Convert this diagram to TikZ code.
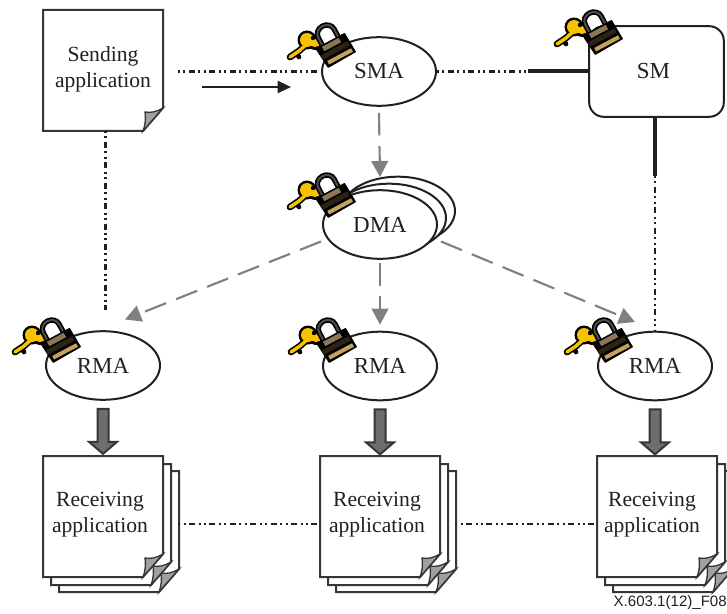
\documentclass[tikz,border=0pt]{standalone}
\usepackage{fontspec}
\setmainfont{Liberation Serif}
\setsansfont{Liberation Sans}
\usetikzlibrary{shapes.geometric,arrows.meta}
\definecolor{ink}{HTML}{231F20}
\definecolor{sheetline}{HTML}{33363A}
\definecolor{foldgrey}{HTML}{A0A0A0}
\definecolor{flowgrey}{HTML}{808080}
\definecolor{blockgrey}{HTML}{6E6E6E}
\definecolor{keygold}{HTML}{F7C200}
\definecolor{locktan}{HTML}{C4A25E}
\definecolor{lockmid}{HTML}{8C7755}
\tikzset{
  x=0.75pt,y=-0.75pt,
  lab/.style={font=\fontsize{16.2}{19.5}\selectfont,text=ink,align=center,inner sep=0pt},
  agent/.style={ellipse,draw=ink,fill=white,line width=1.5pt,minimum width=85.5pt,minimum height=51.5pt,inner sep=0pt,lab,font=\fontsize{17.2}{19.5}\selectfont},
  manager/.style={rectangle,draw=ink,fill=white,line width=1.5pt,rounded corners=11pt,minimum width=101pt,minimum height=68pt,inner sep=0pt,lab,font=\fontsize{17.2}{19.5}\selectfont},
  sheetarea/.style={rectangle,minimum width=90pt,minimum height=90pt,inner sep=0pt,lab},
  stackarea/.style={rectangle,minimum width=101pt,minimum height=102pt,inner sep=0pt},
  sheet/.style={draw=sheetline,fill=white,line width=1.5pt,line join=miter},
  fold/.style={draw=sheetline,fill=foldgrey,line width=1pt},
  dotlink/.style={draw=ink,line width=1.6pt,dash pattern=on 1.5pt off 2.6pt on 1.5pt off 2.6pt on 4.5pt off 2.6pt},
  thicklink/.style={draw=ink,line width=3pt},
  flow/.style={draw=flowgrey,line width=1.6pt,dash pattern=on 17pt off 8pt},
  block/.style={draw=sheetline,fill=blockgrey,line width=1.5pt,line join=miter},
  flowhead/.style={-{Triangle[length=12pt,width=12.5pt,color=flowgrey,sep=0pt]}},
}
\newcommand{\drawsheet}[2]{%
  \path[sheet] (#1,#2) -- ++(120,0) -- ++(0,98) -- ++(-20,23) -- ++(-100,0) -- cycle;
  \path[fold] (#1+120,#2+98) .. controls (#1+113,#2+102) and (#1+108,#2+103) .. (#1+102,#2+102) .. controls (#1+103,#2+110) and (#1+102,#2+116) .. (#1+100,#2+121) -- cycle;
}
\newcommand{\drawstack}[2]{%
  \drawsheet{#1+16}{#2+15}\drawsheet{#1+8}{#2+8}\drawsheet{#1}{#2}%
}
\newcommand{\drawlock}[2]{%
  \begin{scope}[shift={(#1,#2)}]
    % key: black silhouette, then gold core
    \path[draw=black,line width=5pt,line join=round,line cap=round] (-45,7) -- (-36,1) -- (-27,-7);
    \path[draw=black,line width=3.5pt,line join=round,line cap=round] (-39,3) -- (-36,7);
    \path[fill=black] (-28,-10) circle[radius=9.5];
    \path[fill=black] (-20,-7) circle[radius=7];
    \path[draw=keygold,line width=2.6pt,line cap=round] (-45,7) -- (-36,1) -- (-27,-7);
    \path[fill=keygold] (-28,-10) circle[radius=7];
    \path[fill=keygold] (-20,-7) ellipse[x radius=5.5,y radius=4];
    \path[fill=black] (-22,-12) circle[radius=2.2];
  \end{scope}
  \begin{scope}[shift={(#1,#2)},rotate=28]
    \path[draw=black,line width=4pt] (-9,-8) -- (-9,-19) arc[start angle=180,end angle=0,x radius=9,y radius=-8] -- (9,-8);
    \path[draw=gray!60!black,line width=1.5pt] (-9,-8) -- (-9,-19) arc[start angle=180,end angle=0,x radius=9,y radius=-8] -- (9,-8);
    \path[fill=black,draw=black,line width=1pt,line join=round] (-16,-10) -- (16,-10) -- (17,11) -- (-14,12) -- cycle;
    \path[fill=lockmid] (-10,-9) rectangle (9,-4);
    \path[fill=black!78!locktan] (-15,-2) rectangle (15,3);
    \path[fill=locktan] (-12,6) rectangle (15,10);
  \end{scope}
}
\begin{document}
\begin{tikzpicture}
\useasboundingbox (0,0) rectangle (727,613);

% pages
\drawsheet{43}{10}
\node[sheetarea] (send) at (103,69) {\makebox[0pt]{Sending}\\\makebox[0pt]{application}};
\drawstack{43}{456}
\drawstack{320}{456}
\drawstack{597}{456}
\node[stackarea] (stackA) at (110.5,524) {};
\node[stackarea] (stackB) at (387.5,524) {};
\node[stackarea] (stackC) at (664.5,524) {};
\node[lab] (recvA) at (100,514.5) {Receiving\\application};
\node[lab] (recvB) at (377,514.5) {Receiving\\application};
\node[lab] (recvC) at (652,514.5) {Receiving\\application};

% agents
\node[agent] (dmaC) at (398,211) {};
\node[agent] (dmaB) at (389,218) {};
\node[agent] (dma) at (380,224.5) {DMA};
\node[agent] (sma) at (379,71.5) {SMA};
\node[agent] (rmaA) at (103,365.5) {RMA};
\node[agent] (rmaB) at (380,366) {RMA};
\node[agent] (rmaC) at (655,366) {RMA};
\node[manager] (sm) at (656.5,71.5) {SM\kern4.5pt};

% free ends
\coordinate (sendOut) at (178,71.5);
\coordinate (smStub) at (528,71.5);
\coordinate (smDown) at (655,176);
\coordinate (sendBottom) at (105.5,131);
\coordinate (sendLow) at (105.5,310);
\coordinate (smLow) at (655,330);
\coordinate (runA) at (202,87);
\coordinate (runB) at (291,87);

% dash-dot links
\path[dotlink] (sendOut) -- (sma.west);
\path[dotlink] (sma.east) -- (smStub);
\path[thicklink] (smStub) -- (sm.west);
\path[thicklink] (sm.south -| smDown) -- (smDown);
\path[dotlink] (smDown) -- (smLow);
\path[dotlink] (sendBottom) -- (sendLow);
\path[dotlink] (stackA.east) -- (stackB.west);
\path[dotlink] (stackB.east) -- (stackC.west);

% solid arrow
\draw[draw=ink,line width=1.5pt,-{Triangle[length=10pt,width=9pt,fill=ink]}] (runA) -- (runB);

% grey dashed arrows
\path[flow,flowhead,draw] ([shift={(0,6)}]sma.south) -- (dma.north |- 0,177);
\path[flow,flowhead,draw] ([shift={(-18,-8)}]dma.south west) -- ([shift={(-19,-21)}]rmaA.north east);
\path[flow,flowhead,draw] ([shift={(0,3)}]dma.south) -- ([shift={(0,-6)}]rmaB.north);
\path[flow,flowhead,draw] ([shift={(20,-8)}]dma.south east) -- ([shift={(21,-19)}]rmaC.north west);

% block arrows
\foreach \c/\t in {rmaA/stackA,rmaB/stackB,rmaC/stackC}{
  \coordinate (tipx) at (\c.south);
  \path[block] ([shift={(-5.5,8)}]tipx) -- ([shift={(5.5,8)}]tipx) -- ([shift={(5.5,41)}]tipx) -- ([shift={(14,41)}]tipx) -- ([shift={(0,53)}]tipx) -- ([shift={(-14,41)}]tipx) -- ([shift={(-5.5,41)}]tipx) -- cycle;
}

% locks
\drawlock{335}{50}
\drawlock{335}{200}
\drawlock{60}{345}
\drawlock{336}{345}
\drawlock{612}{345}
\drawlock{602}{37}

\node[font=\sffamily\fontsize{11.3}{13}\selectfont,text=ink,anchor=east,inner sep=0pt] (tag) at (727,603) {X.603.1(12)\_F08};
\end{tikzpicture}
\end{document}
